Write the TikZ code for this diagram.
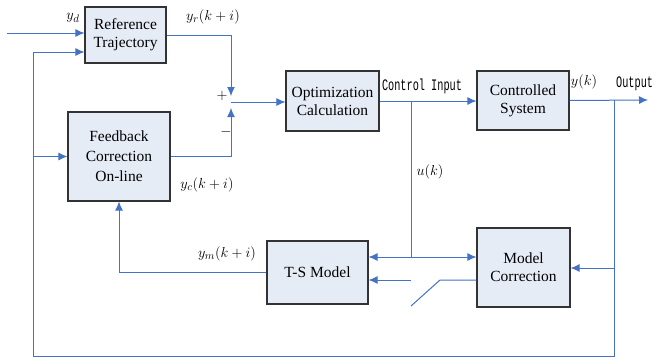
\documentclass[tikz,border=0pt]{standalone}
\usepackage{fontspec}
\setmainfont{Liberation Serif}
\newfontfamily\condmono[FakeStretch=0.64]{Liberation Mono}
\usepackage{amsmath}
\usetikzlibrary{arrows.meta,calc}
\definecolor{lineblue}{RGB}{68,114,196}
\definecolor{boxfill}{RGB}{230,236,246}
\tikzset{
  block/.style={draw=black!80, line width=1.1pt, fill=boxfill, align=center,
    font=\fontsize{15.5}{18}\selectfont, inner sep=0pt},
  wire/.style={draw=lineblue, line width=1pt},
  arr/.style={wire, -{Latex[length=9pt,width=8pt]}},
  lbl/.style={font=\fontsize{15}{17}\selectfont, inner sep=0pt},
  mono/.style={font=\condmono\fontsize{16}{18}\selectfont, inner sep=0pt}
}
\begin{document}
\begin{tikzpicture}[x=1pt, y=-1pt]
        \useasboundingbox (0,0) rectangle (658,359);
        % Blocks
        \node [block, minimum width=81pt, minimum height=56pt] (ref) at (125.5,35) {Reference\\Trajectory};
        \node [block, minimum width=93pt, minimum height=60pt] (opt) at (332.5,101) {Optimization\\Calculation};
        \node [block, minimum width=92pt, minimum height=59pt] (plant) at (523,100.5) {Controlled\\System};
        \node [block, minimum width=102pt, minimum height=89pt, align=center] (fb) at (119,156.5) {Feedback\\[2pt]Correction\\[2pt]On-line};
        \node [block, minimum width=101pt, minimum height=63pt] (ts) at (317.5,272.5) {T-S Model};
        \node [block, minimum width=93pt, minimum height=79pt] (mc) at (523.5,267.5) {Model\\Correction};

        % Points
        \coordinate (yd) at (7,33);
        \coordinate (sum) at (231,102);
        \coordinate (out) at (648,100);
        \coordinate (tap) at (614,100);
        \coordinate (loop) at (33,356);
        \coordinate (uk) at (411,101);
        \coordinate (sw) at (440,280);
        \coordinate (swend) at (411,306);

        % Connections
        \draw [arr] (yd) -- (yd -| ref.west);
        \draw [arr] (tap) -- (tap |- loop) -- (loop) -- (loop |- 0,52) -- (ref.west |- 0,52);
        \draw [arr] (loop |- fb.west) -- (fb.west);
        \draw [arr, shorten >=6pt] (ref.east |- 0,35) -| (sum);
        \draw [arr, shorten >=6pt] (fb.east) -| (sum);
        \draw [arr] (sum) -- (sum -| opt.west);
        \draw [arr] (opt.east |- uk) -- (plant.west |- uk);
        \draw [arr] (plant.east) -- (out);
        \draw [wire] (uk) -- (uk |- 0,257);
        \draw [arr] (uk |- 0,257) -- (ts.east |- 0,257);
        \draw [arr] (uk |- 0,257) -- (mc.west |- 0,257);
        \draw [wire] (mc.west |- sw) -- (sw) -- (swend);
        \draw [arr] (swend |- sw) -- (ts.east |- sw);
        \draw [arr] (tap |- 0,268) -- (mc.east |- 0,268);
        \draw [arr] (ts.west) -| (fb.south);

        % Labels
        \node [lbl] (lyd) at (73,18) {$y_d$};
        \node [lbl] (lyr) at (213,17) {$y_r(k+i)$};
        \node [lbl] (lplus) at (222,96) {$+$};
        \node [lbl] (lminus) at (226,132) {$-$};
        \node [lbl] (lyc) at (207,185) {$y_c(k+i)$};
        \node [lbl] (lym) at (227,254) {$y_m(k+i)$};
        \node [lbl] (luk) at (430,172) {$u(k)$};
        \node [lbl] (lyk) at (584,82) {$y(k)$};
        \node [mono] (lci) at (422,86) {Control Input};
        \node [mono, anchor=west] (lout) at (616,84) {Output};
\end{tikzpicture}
\end{document}
